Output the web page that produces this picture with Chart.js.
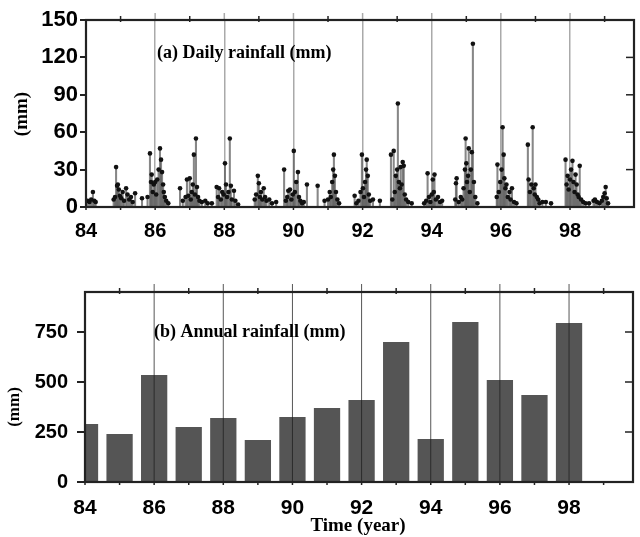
<!DOCTYPE html>
<html>
<head>
<meta charset="utf-8">
<script src="https://cdn.jsdelivr.net/npm/chart.js@4.4.0/dist/chart.umd.min.js"></script>
<style>
  body { margin: 0; background: #fff; width: 640px; height: 537px; overflow: hidden; position: relative; }
  #daily { position: absolute; left: 0; top: 0; }
  #annual { position: absolute; left: 0; top: 250px; }
</style>
</head>
<body>
<canvas id="daily" width="640" height="250"></canvas>
<canvas id="annual" width="640" height="287"></canvas>
<script>
// (a) daily rainfall, time in decimal years (19xx), rain in mm
var dailyTime = [
  84.05, 84.10, 84.15, 84.20, 84.24, 84.28,
  84.80, 84.84, 84.87, 84.90, 84.92, 84.95, 84.98, 85.02, 85.06, 85.10, 85.16, 85.20, 85.25, 85.30, 85.35, 85.42, 85.62,
  85.78, 85.85, 85.88, 85.90, 85.93, 85.96, 86.00, 86.03, 86.06, 86.10, 86.14, 86.17, 86.20, 86.23, 86.25, 86.28, 86.32, 86.38,
  86.72, 86.80, 86.88, 86.92, 86.96, 87.00, 87.03, 87.06, 87.09, 87.12, 87.15, 87.18, 87.21, 87.24, 87.28, 87.35, 87.45, 87.52, 87.64,
  87.78, 87.82, 87.85, 87.90, 87.94, 87.98, 88.02, 88.05, 88.08, 88.12, 88.16, 88.19, 88.22, 88.28, 88.32, 88.40,
  88.88, 88.92, 88.97, 89.00, 89.03, 89.06, 89.10, 89.14, 89.18, 89.22, 89.30, 89.38, 89.50,
  89.73, 89.78, 89.82, 89.85, 89.90, 89.94, 89.98, 90.01, 90.04, 90.08, 90.13, 90.16, 90.20, 90.25, 90.30, 90.39, 90.70, 90.90,
  91.00, 91.05, 91.08, 91.12, 91.15, 91.17, 91.20, 91.23, 91.27, 91.32,
  91.77, 91.82, 91.88, 91.94, 91.98, 92.01, 92.04, 92.07, 92.10, 92.12, 92.15, 92.18, 92.22, 92.30, 92.50,
  92.82, 92.86, 92.90, 92.93, 92.96, 93.00, 93.02, 93.05, 93.08, 93.10, 93.13, 93.16, 93.19, 93.22, 93.26, 93.32, 93.42,
  93.78, 93.84, 93.88, 93.92, 93.96, 94.00, 94.03, 94.06, 94.08, 94.12, 94.18, 94.24, 94.30,
  94.68, 94.70, 94.72, 94.78, 94.84, 94.88, 94.92, 94.96, 94.98, 95.00, 95.02, 95.05, 95.07, 95.10, 95.13, 95.16, 95.19, 95.22, 95.26, 95.32,
  95.88, 95.90, 95.94, 95.98, 96.02, 96.05, 96.08, 96.10, 96.13, 96.16, 96.20, 96.25, 96.28, 96.32, 96.38, 96.45,
  96.78, 96.80, 96.84, 96.88, 96.92, 96.95, 96.98, 97.00, 97.04, 97.08, 97.12, 97.20, 97.30, 97.45,
  97.87, 97.90, 97.93, 97.96, 98.00, 98.03, 98.07, 98.10, 98.13, 98.16, 98.19, 98.22, 98.25, 98.28, 98.32, 98.38, 98.45, 98.55,
  98.68, 98.72, 98.78, 98.85, 98.92, 98.96, 99.00, 99.03, 99.06, 99.10
];
var dailyRain = [
  5, 4, 6, 12, 5, 4,
  6, 8, 32, 17, 18, 14, 9, 7, 12, 5, 15, 10, 6, 8, 4, 11, 7,
  8, 43, 20, 26, 12, 18, 20, 10, 22, 30, 47, 38, 28, 18, 12, 8, 5, 3,
  15, 5, 8, 22, 9, 23, 6, 12, 18, 42, 10, 55, 16, 8, 5, 4, 5, 3, 3,
  16, 8, 15, 6, 12, 10, 35, 18, 8, 12, 55, 17, 6, 13, 5, 2,
  6, 10, 25, 19, 8, 12, 6, 15, 8, 5, 6, 3, 4,
  30, 5, 8, 13, 14, 6, 10, 45, 12, 20, 28, 8, 5, 3, 4, 18, 17, 5,
  6, 12, 8, 20, 30, 42, 25, 12, 6, 3,
  9, 3, 5, 12, 42, 15, 8, 20, 30, 38, 25, 10, 5, 6, 5,
  42, 6, 45, 12, 25, 30, 83, 20, 15, 32, 18, 36, 33, 10, 6, 4, 3,
  3, 5, 27, 8, 4, 10, 22, 12, 26, 6, 8, 4, 5,
  6, 19, 23, 4, 8, 6, 15, 30, 55, 35, 20, 25, 47, 12, 30, 44, 131, 20, 8, 3,
  8, 34, 12, 20, 30, 64, 42, 23, 15, 18, 8, 12, 6, 15, 4, 3,
  50, 22, 12, 18, 64, 15, 10, 18, 8, 6, 3, 4, 4, 3,
  38, 18, 25, 14, 22, 30, 37, 20, 12, 26, 18, 10, 8, 33, 6, 4, 3, 3,
  5, 6, 4, 3, 5, 8, 11, 16, 7, 3
];
var dailyTicks = [0, 30, 60, 90, 120, 150];

// (b) annual rainfall
var annualYears = [84, 85, 86, 87, 88, 89, 90, 91, 92, 93, 94, 95, 96, 97, 98];
var annualRain = [290, 240, 535, 275, 320, 210, 325, 370, 410, 700, 215, 800, 510, 435, 795];
var annualTicks = [0, 250, 500, 750];

var dailyPoints = dailyTime.map(function (t, i) { return { x: t, y: dailyRain[i] }; });
var annualPoints = annualYears.map(function (t, i) { return { x: t, y: annualRain[i] }; });

var sans = "'Liberation Sans', Arial, sans-serif";
var serif = "'Liberation Serif', 'Times New Roman', serif";

// frame, small ticks, grid lines above the frame and the free texts
var framePlugin = {
  id: 'frame',
  afterDraw: function (chart, args, o) {
    var ctx = chart.ctx, a = chart.chartArea, x = chart.scales.x, y = chart.scales.y;
    function line(x1, y1, x2, y2) { ctx.beginPath(); ctx.moveTo(x1, y1); ctx.lineTo(x2, y2); ctx.stroke(); }
    ctx.save();
    ctx.strokeStyle = o.gridColor;
    ctx.lineWidth = o.gridWidth;
    x.ticks.forEach(function (t) {
      if (t.value > x.min) {
        var px = x.getPixelForValue(t.value);
        // on the bar panel the lines also run over the bars
        line(px, a.top - o.stub, px, o.overBars ? a.bottom : a.top);
      }
    });
    ctx.strokeStyle = '#222';
    ctx.lineWidth = 1.5;
    for (var v = Math.ceil(x.min); v < x.max; v++) {
      var px = x.getPixelForValue(v);
      if (v % 2) line(px, a.top - 4, px, a.top + 2);
      line(px, a.bottom, px, a.bottom + 3);
    }
    y.ticks.forEach(function (t) {
      if (t.value > y.min && t.value < y.max) {
        var py = y.getPixelForValue(t.value);
        line(a.right - 8, py, a.right, py);
      }
    });
    ctx.lineWidth = 2.2;
    ctx.strokeRect(a.left, a.top, a.right - a.left, a.bottom - a.top);

    ctx.fillStyle = '#000';
    ctx.textBaseline = 'middle';
    ctx.textAlign = 'left';
    ctx.font = 'bold ' + o.labelSize + 'px ' + serif;
    ctx.fillText(o.label, o.labelX, o.labelY);
    if (o.xTitle) {
      ctx.textAlign = 'center';
      ctx.font = 'bold 19px ' + serif;
      ctx.fillText(o.xTitle, o.xTitleX, o.xTitleY);
    }
    ctx.translate(o.yTitleX, o.yTitleY);
    ctx.rotate(-Math.PI / 2);
    ctx.textAlign = 'center';
    ctx.font = 'bold ' + o.yTitleSize + 'px ' + serif;
    ctx.fillText('(mm)', 0, 0);
    ctx.restore();
  }
};

new Chart(document.getElementById('daily'), {
  type: 'bar',
  data: {
    datasets: [
      { type: 'scatter', data: dailyPoints, pointRadius: 2.3, pointBackgroundColor: '#111', pointBorderWidth: 0, order: 0 },
      { type: 'bar', data: dailyPoints, barThickness: 1.4, backgroundColor: 'rgba(95,95,95,0.75)', order: 1 }
    ]
  },
  options: {
    responsive: false,
    animation: false,
    layout: { padding: { left: 0, right: 6, top: 20, bottom: 0 } },
    plugins: {
      legend: { display: false },
      tooltip: { enabled: false },
      frame: {
        gridColor: '#aaa', gridWidth: 1.5, stub: 7, overBars: false,
        label: '(a) Daily rainfall (mm)', labelX: 157, labelY: 53, labelSize: 18,
        yTitleX: 22, yTitleY: 114, yTitleSize: 19
      }
    },
    scales: {
      x: {
        type: 'linear', min: 84, max: 99.85, offset: false,
        ticks: { stepSize: 2, includeBounds: false, color: '#000', padding: 12, font: { family: sans, size: 20, weight: 'bold' } },
        grid: { offset: false, drawTicks: false, lineWidth: 1.5, color: function (c) { return c.tick && c.tick.value === 84 ? 'rgba(0,0,0,0)' : '#aaa'; } },
        border: { display: false },
        afterFit: function (s) { s.height = 43; }
      },
      y: {
        min: 0, max: 150,
        afterBuildTicks: function (s) { s.ticks = dailyTicks.map(function (v) { return { value: v }; }); },
        ticks: { color: '#000', padding: 2, font: { family: sans, size: 22, weight: 'bold' } },
        grid: { drawOnChartArea: false, tickLength: 6, color: '#222', lineWidth: 2 },
        border: { display: false },
        afterFit: function (s) { s.width = 86; }
      }
    }
  },
  plugins: [framePlugin]
});

new Chart(document.getElementById('annual'), {
  type: 'bar',
  data: {
    datasets: [
      { data: annualPoints, backgroundColor: '#555555', barPercentage: 0.95, categoryPercentage: 0.8 }
    ]
  },
  options: {
    responsive: false,
    animation: false,
    layout: { padding: { left: 0, right: 7, top: 42, bottom: 0 } },
    plugins: {
      legend: { display: false },
      tooltip: { enabled: false },
      frame: {
        gridColor: 'rgba(30,30,30,0.75)', gridWidth: 1, stub: 8, overBars: true,
        label: '(b) Annual rainfall (mm)', labelX: 154, labelY: 82, labelSize: 18,
        yTitleX: 15, yTitleY: 157, yTitleSize: 17,
        xTitle: 'Time (year)', xTitleX: 358, xTitleY: 276
      }
    },
    scales: {
      x: {
        type: 'linear', min: 84, max: 99.85, offset: false,
        ticks: { stepSize: 2, includeBounds: false, color: '#000', padding: 14, font: { family: sans, size: 21, weight: 'bold' } },
        grid: { display: false, offset: false, drawTicks: false },
        border: { display: false },
        afterFit: function (s) { s.height = 55; }
      },
      y: {
        min: 0, max: 950,
        afterBuildTicks: function (s) { s.ticks = annualTicks.map(function (v) { return { value: v }; }); },
        ticks: { color: '#000', padding: 9, font: { family: sans, size: 20, weight: 'bold' } },
        grid: { drawOnChartArea: false, tickLength: 8, color: '#222', lineWidth: 2 },
        border: { display: false },
        afterFit: function (s) { s.width = 85; }
      }
    }
  },
  plugins: [framePlugin]
});
</script>
</body>
</html>
